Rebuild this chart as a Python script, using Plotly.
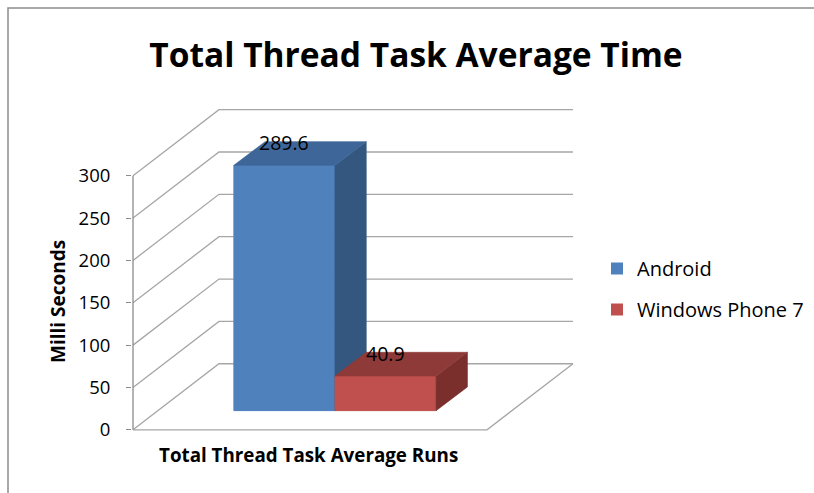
import plotly.graph_objects as go

# ---- data ----
categories = ["Total Thread Task Average Runs"]
series_names = ["Android", "Windows Phone 7"]
series_values = [289.6, 40.9]
y_ticks = [0, 50, 100, 150, 200, 250, 300]
title_text = "Total Thread Task Average Time"
y_title = "Milli Seconds"

# ---- styling / 3D geometry ----
front_colors = ["#4F81BD", "#C0504D"]
top_colors = ["#3E6699", "#8E3A38"]
side_colors = ["#34577F", "#7B2F2D"]
grid_color = "#A6A6A6"
axis_color = "#8C8C8C"
FONT = "Open Sans"

n_bars = len(series_values)
bar_w = 1.0          # x units per bar
gap = 0.75           # gap on each side of the group (front floor)
floor_w = n_bars * bar_w + 2 * gap
depth_dx = 0.85      # full-depth oblique shift in x units
depth_dy = 78.0      # full-depth oblique shift in y units
bar_f0 = 0.29        # depth fraction of bar front face
bar_ddx = 0.31       # bar depth in x units
bar_ddy = 28.0       # bar depth in y units
y_max = max(y_ticks)

fig = go.Figure()

# legend / front-face bars (drawn underneath, polygons repeat them on top)
for i, (name, val) in enumerate(zip(series_names, series_values)):
    x0 = gap + i * bar_w + bar_f0 * depth_dx
    fig.add_trace(go.Bar(
        x=[x0 + bar_w / 2], y=[val], base=[bar_f0 * depth_dy], width=[bar_w],
        name=name, marker=dict(color=front_colors[i], line=dict(width=0)),
        legendgroup=name, hoverinfo="skip", showlegend=True))

# gridlines: left wall diagonal + back wall horizontal
for v in y_ticks:
    fig.add_trace(go.Scatter(
        x=[0, depth_dx, depth_dx + floor_w],
        y=[v, v + depth_dy, v + depth_dy],
        mode="lines", line=dict(color=grid_color, width=1.3),
        showlegend=False, hoverinfo="skip"))

# floor outline
fig.add_trace(go.Scatter(
    x=[0, floor_w, floor_w + depth_dx],
    y=[0, 0, depth_dy],
    mode="lines", line=dict(color=grid_color, width=1.3),
    showlegend=False, hoverinfo="skip"))

# vertical axis line (front-left edge)
fig.add_trace(go.Scatter(
    x=[0, 0], y=[0, y_max], mode="lines",
    line=dict(color=axis_color, width=1.3),
    showlegend=False, hoverinfo="skip"))

def poly(xs, ys, color):
    fig.add_trace(go.Scatter(
        x=xs + [xs[0]], y=ys + [ys[0]], mode="lines", fill="toself",
        fillcolor=color, line=dict(color=color, width=0.6),
        showlegend=False, hoverinfo="skip"))

# 3D bars
for i, val in enumerate(series_values):
    xl = gap + i * bar_w + bar_f0 * depth_dx
    xr = xl + bar_w
    yb = bar_f0 * depth_dy
    yt = yb + val
    poly([xl, xr, xr, xl], [yb, yb, yt, yt], front_colors[i])
    poly([xr, xr + bar_ddx, xr + bar_ddx, xr],
         [yb, yb + bar_ddy, yt + bar_ddy, yt], side_colors[i])
    poly([xl, xr, xr + bar_ddx, xl + bar_ddx],
         [yt, yt, yt + bar_ddy, yt + bar_ddy], top_colors[i])

# data labels
annotations = []
for i, val in enumerate(series_values):
    xc = gap + i * bar_w + bar_f0 * depth_dx + bar_w / 2
    yt = bar_f0 * depth_dy + val
    annotations.append(dict(
        x=xc, y=yt + 27, xref="x", yref="y", text=f"{val}", showarrow=False,
        font=dict(family=FONT, size=19.5, color="#000000"),
        xanchor="center", yanchor="middle"))

# geometry helpers for paper coordinates
L, R, T, B = 132, 237, 91, 53
W, H = 814, 493
pw, ph = W - L - R, H - T - B
def px_x(px):
    return (px - L) / pw
def px_y(py):
    return (H - B - py) / ph

# category label
annotations.append(dict(
    x=px_x(308), y=px_y(455), xref="paper", yref="paper",
    text=f"<b>{categories[0]}</b>", showarrow=False,
    font=dict(family=FONT, size=18.8, color="#000000"),
    xanchor="center", yanchor="middle"))
# y axis title
annotations.append(dict(
    x=px_x(58), y=px_y(302), xref="paper", yref="paper",
    text=f"<b>{y_title}</b>", showarrow=False, textangle=-90,
    font=dict(family=FONT, size=19, color="#000000"),
    xanchor="center", yanchor="middle"))

fig.update_layout(
    width=W, height=H,
    margin=dict(l=L, r=R, t=T, b=B, pad=0, autoexpand=False),
    paper_bgcolor="white", plot_bgcolor="white",
    barmode="overlay",
    title=dict(text=f"<b>{title_text}</b>", x=416 / W, xanchor="center",
               y=1 - 55 / H, yanchor="middle",
               font=dict(family=FONT, size=33.5, color="#000000")),
    xaxis=dict(range=[-0.01, 4.39], visible=False, fixedrange=True),
    yaxis=dict(range=[-12, 400], tickvals=y_ticks, ticks="outside",
               ticklen=5, tickcolor=axis_color, tickwidth=1.3,
               showgrid=False, zeroline=False, showline=False,
               ticklabelstandoff=12,
               tickfont=dict(family=FONT, size=18.5, color="#000000")),
    legend=dict(x=px_x(597), y=px_y(249), xanchor="left", yanchor="top",
                font=dict(family=FONT, size=20, color="#000000"),
                tracegroupgap=12, bgcolor="rgba(0,0,0,0)"),
    annotations=annotations,
    shapes=[dict(type="rect", xref="paper", yref="paper",
                 x0=px_x(8), x1=px_x(830), y0=px_y(510), y1=px_y(8),
                 line=dict(color="#8C8C8C", width=1.5), layer="below")],
    showlegend=True,
)

fig.write_html("out.html")
